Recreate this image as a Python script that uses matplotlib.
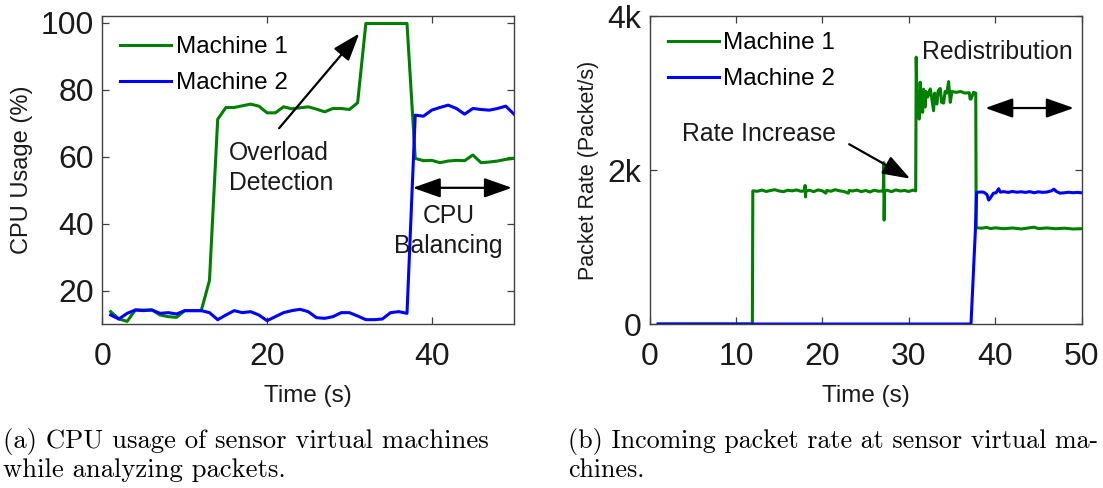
import matplotlib
matplotlib.use("Agg")
import matplotlib.pyplot as plt
from matplotlib.ticker import FixedLocator, FixedFormatter

plt.rcParams['font.family'] = ['Liberation Sans', 'DejaVu Sans']

# ---------------- data: (a) CPU usage ----------------
cpu_time = list(range(1, 51))
cpu_m1 = [13.7, 11.5, 10.8, 14.2, 14.2, 14.2, 12.7, 12.2, 12.0, 14.0,
          14.0, 14.0, 23.0, 71.2, 74.7, 74.7, 75.2, 75.7, 75.1, 73.1,
          73.1, 74.9, 74.3, 74.6, 74.9, 74.2, 73.4, 74.4, 74.4, 74.1,
          76.1, 99.8, 99.8, 99.8, 99.8, 99.8, 99.8, 59.5, 58.8, 58.9,
          58.2, 58.7, 58.9, 58.8, 60.5, 58.2, 58.4, 58.7, 59.2, 59.5]
cpu_m2 = [12.7, 11.5, 13.2, 14.2, 14.0, 14.2, 13.2, 13.4, 13.0, 14.0,
          14.0, 14.0, 13.4, 11.3, 12.7, 14.0, 13.4, 13.7, 12.7, 11.0,
          12.2, 13.4, 14.0, 14.4, 13.7, 11.9, 11.7, 12.2, 13.4, 13.4,
          12.4, 11.3, 11.3, 11.5, 13.4, 13.7, 13.2, 72.4, 72.1, 73.9,
          74.7, 75.4, 74.4, 72.7, 74.4, 74.1, 73.9, 74.4, 75.1, 72.7]
cpu_xticks = [0, 20, 40]
cpu_yticks = [20, 40, 60, 80, 100]

# ---------------- data: (b) packet rate ----------------
pkt_t1 = [1.0, 11.9, 11.95, 12.5, 13.0, 13.5, 14.0, 14.5, 15.0, 15.5, 16.0,
          16.5, 17.0, 17.5, 17.95, 18.0, 18.05, 18.1, 18.5, 19.0, 19.5, 20.0,
          20.4, 20.5, 21.0, 21.5, 22.0, 22.5, 23.0, 23.1, 23.5, 24.0, 24.5,
          25.0, 25.5, 26.0, 26.5, 27.05, 27.1, 27.15, 27.2, 27.5, 28.0, 28.5,
          29.0, 29.5, 30.0, 30.5, 30.8, 30.86, 30.95, 31.05, 31.13, 31.2,
          31.32, 31.45, 31.52, 31.6, 31.71, 31.8, 31.9, 32.0, 32.2, 32.48,
          32.6, 32.87, 33.0, 33.26, 33.4, 33.64, 33.8, 34.03, 34.2, 34.4,
          34.61, 34.8, 35.0, 35.5, 36.0, 36.5, 37.0, 37.1, 37.2, 37.5, 37.75,
          37.8, 38.5, 39.0, 39.5, 40.0, 41.0, 42.0, 43.0, 44.0, 44.5, 45.0,
          46.0, 47.0, 48.0, 49.0, 50.0]
pkt_m1 = [0, 0, 1730, 1725, 1740, 1722, 1735, 1745, 1728, 1720, 1738,
          1730, 1742, 1725, 1730, 1800, 1650, 1730, 1738, 1720, 1742, 1730,
          1700, 1735, 1725, 1745, 1730, 1722, 1700, 1735, 1728, 1740, 1720,
          1735, 1715, 1738, 1725, 1730, 2097, 1350, 1730, 1738, 1720, 1742,
          1728, 1735, 1722, 1740, 1730, 3467, 2900, 2700, 3020, 2662,
          3141, 2850, 3000, 2750, 3050, 2980, 2819, 3020, 2950, 3054,
          2980, 2771, 3000, 2858, 3030, 3060, 2880, 2870, 3020, 3000,
          3149, 2880, 3020, 3010, 3020, 3000, 3005, 2923, 2923, 3010, 3000,
          1250, 1245, 1255, 1240, 1250, 1238, 1248, 1235, 1250, 1258, 1240,
          1248, 1238, 1245, 1235, 1238]
pkt_t2 = [1.0, 37.2, 37.7, 37.85, 38.3, 38.66, 39.04, 39.25, 39.45, 39.8,
          40.1, 40.4, 40.6, 41.0, 41.5, 42.0, 42.5, 43.0, 43.5, 44.0, 44.5,
          45.0, 45.5, 46.0, 46.5, 46.8, 47.1, 47.5, 48.0, 48.5, 49.0, 49.5,
          50.0]
pkt_m2 = [0, 0, 1200, 1710, 1715, 1713, 1683, 1610, 1640, 1700,
          1705, 1758, 1713, 1720, 1710, 1722, 1712, 1718, 1710, 1720, 1705,
          1718, 1710, 1715, 1730, 1752, 1720, 1700, 1705, 1712, 1705, 1710,
          1705]
pkt_xticks = [0, 10, 20, 30, 40, 50]
pkt_yticks = [0, 2000, 4000]
pkt_yticklabels = ['0', '2k', '4k']

series_labels = ['Machine 1', 'Machine 2']

# ---------------- styling ----------------
GREEN = '#008000'
BLUE = '#0000ff'
AXC = '#404040'
TXT = '#1a1a1a'
LW = 2.2
TICK_FS = 23
LABEL_FS = 17.5
ANN_FS = 17.8

fig = plt.figure(figsize=(11.03, 4.88), dpi=100)
ax1 = fig.add_axes([0.0929, 0.336, 0.3731, 0.631])
ax2 = fig.add_axes([0.5889, 0.336, 0.3917, 0.631])


def style_axes(ax):
    for s in ax.spines.values():
        s.set_color(AXC)
        s.set_linewidth(1.0)
    ax.tick_params(direction='in', top=True, right=True, length=5,
                   width=0.9, color=AXC, labelsize=TICK_FS, labelcolor=TXT)
    ax.tick_params(axis='x', pad=13)
    ax.tick_params(axis='y', pad=6)


# ---- (a)
ax1.plot(cpu_time, cpu_m1, color=GREEN, lw=LW, label=series_labels[0])
ax1.plot(cpu_time, cpu_m2, color=BLUE, lw=LW, label=series_labels[1])
ax1.set_xlim(0, 50)
ax1.set_ylim(10, 102)
ax1.set_xticks(cpu_xticks)
ax1.set_yticks(cpu_yticks)
style_axes(ax1)
ax1.set_xlabel('Time (s)', fontsize=LABEL_FS, color=TXT, labelpad=9)
ax1.set_ylabel('CPU Usage (%)', fontsize=17, color=TXT, labelpad=6)
ax1.legend(loc='upper left', bbox_to_anchor=(0.008, 0.982), frameon=False,
           fontsize=LABEL_FS, handlelength=2.1, handletextpad=0.2,
           labelspacing=0.57, borderaxespad=0.2)

head = dict(mutation_scale=20, color='black', lw=1.6, shrinkA=0, shrinkB=0)
ax1.annotate('', xy=(31.2, 96.8), xytext=(21.46, 68.5),
             arrowprops=dict(arrowstyle='-|>,head_length=0.85,head_width=0.3', **head))
ax1.annotate('', xy=(49.75, 50.7), xytext=(37.7, 50.7),
             arrowprops=dict(arrowstyle='<|-|>,head_length=0.85,head_width=0.3', **head))
ax1.text(15.4, 56.6, 'Overload\nDetection', fontsize=ANN_FS, ha='left',
         va='center', linespacing=1.32, color=TXT)
ax1.text(42.05, 37.7, 'CPU\nBalancing', fontsize=ANN_FS, ha='center',
         va='center', linespacing=1.32, color=TXT)

# ---- (b)
ax2.plot(pkt_t1, pkt_m1, color=GREEN, lw=LW, label=series_labels[0])
ax2.plot(pkt_t2, pkt_m2, color=BLUE, lw=LW, label=series_labels[1])
ax2.set_xlim(0, 50)
ax2.set_ylim(0, 4000)
ax2.xaxis.set_major_locator(FixedLocator(pkt_xticks))
ax2.yaxis.set_major_locator(FixedLocator(pkt_yticks))
ax2.yaxis.set_major_formatter(FixedFormatter(pkt_yticklabels))
style_axes(ax2)
ax2.set_xlabel('Time (s)', fontsize=LABEL_FS, color=TXT, labelpad=9)
ax2.set_ylabel('Packet Rate (Packet/s)', fontsize=15.5, color=TXT, labelpad=6)
ax2.legend(loc='upper left', bbox_to_anchor=(0.008, 0.995), frameon=False,
           fontsize=LABEL_FS, handlelength=2.1, handletextpad=0.2,
           labelspacing=0.57, borderaxespad=0.2)
ax2.annotate('', xy=(30.16, 1888), xytext=(23.1, 2336),
             arrowprops=dict(arrowstyle='-|>,head_length=0.85,head_width=0.3', **head))
ax2.annotate('', xy=(49.1, 2806), xytext=(38.85, 2806),
             arrowprops=dict(arrowstyle='<|-|>,head_length=0.85,head_width=0.3', **head))
ax2.text(12.67, 2466, 'Rate Increase', fontsize=ANN_FS, ha='center',
         va='center', color=TXT)
ax2.text(40.3, 3533, 'Redistribution', fontsize=ANN_FS, ha='center',
         va='center', color=TXT)

# ---- captions
fig.text(0.003, 0.068, '(a) CPU usage of sensor virtual machines\nwhile analyzing packets.',
         fontfamily='cmr10', fontsize=19.2, ha='left', va='center',
         linespacing=1.18, color='black')
fig.text(0.515, 0.068, '(b) Incoming packet rate at sensor virtual ma-\nchines.',
         fontfamily='cmr10', fontsize=18.7, ha='left', va='center',
         linespacing=1.2, color='black')

fig.savefig('out.png', dpi=100)
